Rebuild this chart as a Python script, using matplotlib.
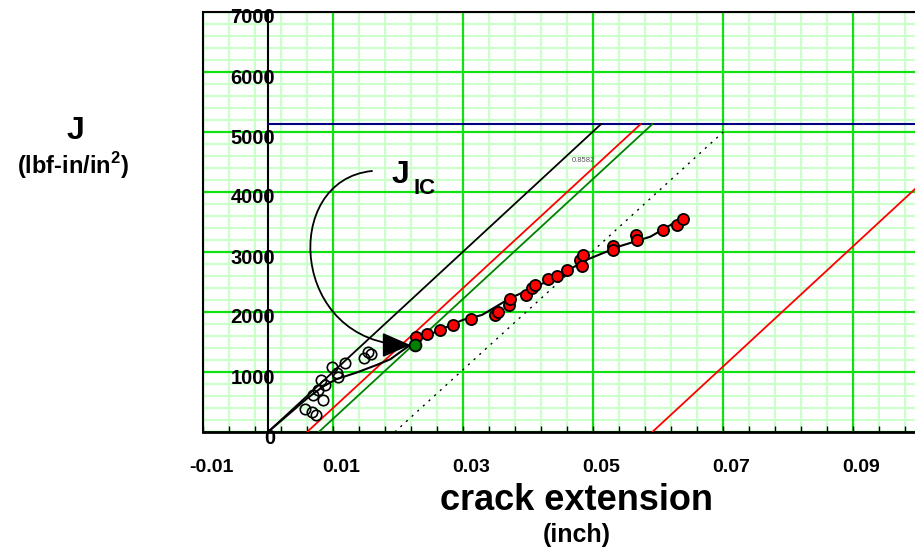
import numpy as np
import matplotlib
matplotlib.use("Agg")
import matplotlib.pyplot as plt
from matplotlib.path import Path
from matplotlib.patches import FancyArrowPatch
from matplotlib.transforms import ScaledTranslation

plt.rcParams["font.family"] = ["Liberation Sans", "DejaVu Sans"]
plt.rcParams["font.weight"] = "bold"
plt.rcParams["mathtext.fontset"] = "custom"
plt.rcParams["mathtext.rm"] = "Liberation Sans:bold"
plt.rcParams["mathtext.bf"] = "Liberation Sans:bold"

# open points (before J_IC)
open_x = [0.00569, 0.00672, 0.00738, 0.00697, 0.00774, 0.00851, 0.00811, 0.00877,
          0.0098, 0.01057, 0.01082, 0.01185, 0.01477, 0.01543, 0.0158]
open_J = [378, 338, 283, 617, 700, 533, 867, 783,
          1078, 978, 922, 1155, 1228, 1338, 1300]

# valid points (red)
red_x = [0.02277, 0.02442, 0.02646, 0.02842, 0.03118, 0.03492, 0.03543, 0.03712,
         0.03723, 0.03962, 0.04057, 0.04108, 0.04312, 0.04442, 0.04595, 0.0480,
         0.04846, 0.04831, 0.0530, 0.0530, 0.05662, 0.05669, 0.06069, 0.06285, 0.06389]
red_J = [1583, 1628, 1700, 1783, 1878, 1950, 2005, 2117,
         2212, 2283, 2395, 2450, 2542, 2600, 2700, 2875,
         2958, 2775, 3100, 3025, 3283, 3200, 3367, 3450, 3545]

# J_IC point
jic_x = [0.02254]
jic_J = [1450]

# J-R curve
curve_x = [0.0003, 0.003, 0.006, 0.0085, 0.0105, 0.0136, 0.0167, 0.0188, 0.0225,
           0.026, 0.030, 0.0329, 0.0372, 0.0434, 0.049, 0.0542, 0.0588, 0.0635]
curve_J = [30, 280, 560, 760, 880, 990, 1117, 1212, 1500,
           1680, 1870, 1950, 2228, 2533, 2870, 3100, 3255, 3550]

# construction lines (end points)
blunt_x, blunt_J = [0.0, 0.0512], [0, 5130]
excl1_x, excl1_J = [0.0060, 0.0573], [0, 5130]
off02_x, off02_J = [0.0078, 0.0591], [0, 5130]
excl2_x, excl2_J = [0.0591, 0.0995], [0, 4050]
dot_x, dot_J = [0.0195, 0.0700], [0, 5000]
jlimit = 5130

xtick_vals = [-0.01, 0.01, 0.03, 0.05, 0.07, 0.09]
xtick_labels = ["-0.01", "0.01", "0.03", "0.05", "0.07", "0.09"]
ytick_vals = [0, 1000, 2000, 3000, 4000, 5000, 6000, 7000]

W, H = 915, 550
fig = plt.figure(figsize=(W / 100, H / 100), dpi=100)
ax = fig.add_axes([203 / W, 1 - 432 / H, (W - 203) / W, (432 - 12) / H])
ax.set_xlim(-0.01, 0.0995)
ax.set_ylim(0, 7000)

# grid: minor first, then major on top
for i, gx in enumerate(np.arange(-0.01, 0.1, 0.004)):
    if i % 5:
        ax.axvline(gx, color="#ccffcc", lw=1.6, zorder=0)
for i, gy in enumerate(np.arange(0, 7001, 200)):
    if i % 5:
        ax.axhline(gy, color="#ccffcc", lw=1.6, zorder=0)
for gx in np.arange(-0.01, 0.1, 0.02):
    ax.axvline(gx, color="#11e011", lw=1.6, zorder=1)
for gy in np.arange(0, 7001, 1000):
    ax.axhline(gy, color="#11e011", lw=1.6, zorder=1)

ax.set_xticks(np.arange(-0.01, 0.1, 0.004))
ax.set_yticks([])
ax.tick_params(which="both", direction="in", length=4, width=1, colors="black",
               labelbottom=False, labelleft=False, left=False)
for s in ["left", "top"]:
    ax.spines[s].set_linewidth(1.5)
ax.spines["bottom"].set_linewidth(2)
ax.spines["right"].set_visible(False)

# y axis at zero
ax.axvline(0, color="black", lw=1.5, zorder=2)

# tick labels
off_x = ax.transData + ScaledTranslation(8 / 100, -35 / 100, fig.dpi_scale_trans)
for v, lab in zip(xtick_vals, xtick_labels):
    ax.text(v, 0, lab, transform=off_x, ha="center", va="center",
            fontsize=14, fontweight="bold", clip_on=False)
off_y = ax.transData + ScaledTranslation(7 / 100, -6 / 100, fig.dpi_scale_trans)
for v in ytick_vals:
    ax.text(0, v, str(v), transform=off_y, ha="right", va="center",
            fontsize=14.5, fontweight="bold", clip_on=False, zorder=3)

# lines
ax.plot([0, 0.0995], [jlimit, jlimit], color="#000080", lw=1.5, zorder=3)
ax.plot(blunt_x, blunt_J, color="black", lw=1.3, zorder=3)
ax.plot(excl1_x, excl1_J, color="#ff0000", lw=1.3, zorder=3)
ax.plot(off02_x, off02_J, color="#008000", lw=1.3, zorder=3)
ax.plot(excl2_x, excl2_J, color="#ff0000", lw=1.3, zorder=3)
ax.plot(dot_x, dot_J, color="black", lw=1, ls=(0, (1.5, 4)), zorder=3)
ax.plot(curve_x, curve_J, color="black", lw=1.5, zorder=4)

# points
ax.plot(open_x, open_J, "o", ms=7.5, mfc="none", mec="black", mew=1.2, zorder=5)
ax.plot(red_x, red_J, "o", ms=8, mfc="#ff0000", mec="black", mew=1.3, zorder=5)
ax.plot(jic_x, jic_J, "o", ms=8.5, mfc="#008000", mec="black", mew=1.3, zorder=6)

# curved arrow to J_IC
verts = [(0.0160, 4350), (0.00185, 4200), (0.00338, 1450), (0.0219, 1450)]
codes = [Path.MOVETO, Path.CURVE4, Path.CURVE4, Path.CURVE4]
arrow = FancyArrowPatch(path=Path(verts, codes),
                        arrowstyle="-|>,head_length=0.8,head_width=0.35",
                        mutation_scale=22, color="black", lw=1.3, zorder=7)
ax.add_patch(arrow)

fig.text(400 / W, 1 - 175 / H, "J", ha="center", va="center", fontsize=23, fontweight="bold")
fig.text(425 / W, 1 - 188 / H, "IC", ha="center", va="center", fontsize=16, fontweight="bold")
fig.text(583 / W, 1 - 160 / H, "0.8582", ha="center", va="center", fontsize=5.5,
         color="#555555", fontweight="normal")

# axis titles
fig.text(577 / W, 1 - 500 / H, "crack extension", ha="center", va="center",
         fontsize=26, fontweight="bold")
fig.text(577 / W, 1 - 535 / H, "(inch)", ha="center", va="center",
         fontsize=18, fontweight="bold")
fig.text(75 / W, 1 - 131 / H, "J", ha="center", va="center",
         fontsize=23, fontweight="bold")
fig.text(73 / W, 1 - 166 / H, r"(lbf-in/in$^{\mathbf{2}}$)", ha="center", va="center",
         fontsize=17, fontweight="bold")

fig.savefig("out.png", dpi=100)
